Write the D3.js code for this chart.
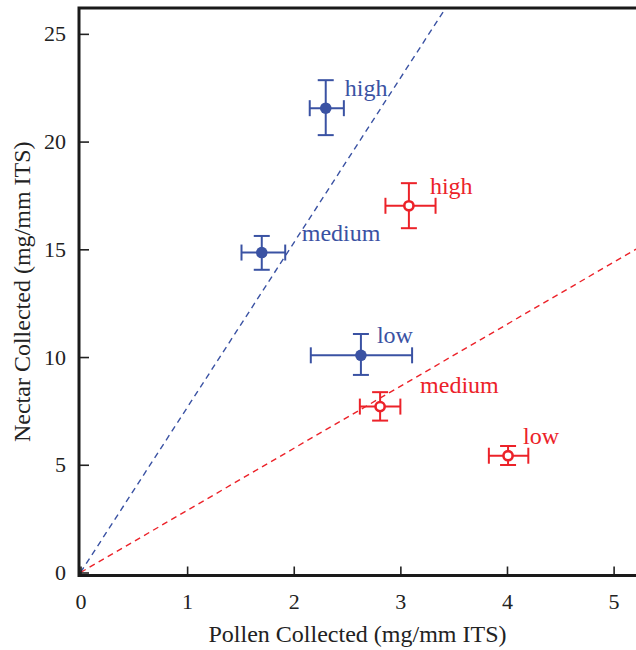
<!DOCTYPE html>
<html>
<head>
<meta charset="utf-8">
<script src="https://cdn.jsdelivr.net/npm/d3@7"></script>
</head>
<body style="margin:0">
<svg id="chart" width="636" height="650"></svg>
<script>
// data
const levels = ['high', 'medium', 'low']
const bluePollen = [2.30, 1.70, 2.63]
const bluePollenErr = [[2.15, 2.47], [1.51, 1.92], [2.16, 3.11]]
const blueNectar = [21.55, 14.85, 10.08]
const blueNectarErr = [[20.30, 22.85], [14.05, 15.62], [9.17, 11.07]]
const redPollen = [3.08, 2.81, 4.01]
const redPollenErr = [[2.86, 3.33], [2.62, 3.00], [3.83, 4.20]]
const redNectar = [17.02, 7.70, 5.42]
const redNectarErr = [[15.98, 18.07], [7.05, 8.37], [4.99, 5.87]]
const blueSlope = 7.65
const redSlope = 2.88
const xTicks = [0, 1, 2, 3, 4, 5]
const yTicks = [0, 5, 10, 15, 20, 25]

const blue = '#3a52a3'
const red = '#ec2229'
const serif = 'Liberation Serif'

// label offsets per point (pixels)
const blueLabelOff = [[19, -12], [40, -12], [16, -12]]
const redLabelOff = [[21, -12], [40, -14], [15, -12]]

const svg = d3.select('#chart')
const width = 636
const height = 650

const x = d3.scaleLinear().domain([0, 5.21]).range([80.5, 636])
const y = d3.scaleLinear().domain([0, 26.2]).range([572.5, 8])

const plotLeft = 79
const plotTop = 8
const plotBottom = 575.5

svg.append('clipPath').attr('id', 'plot')
  .append('rect')
  .attr('x', plotLeft).attr('y', plotTop)
  .attr('width', width - plotLeft).attr('height', plotBottom - plotTop)

//fit lines through the origin
const fits = [
  { slope: blueSlope, color: blue },
  { slope: redSlope, color: red }
]
svg.append('g').attr('clip-path', 'url(#plot)')
  .selectAll('line')
  .data(fits)
  .enter()
  .append('line')
  .attr('x1', x(0))
  .attr('y1', y(0))
  .attr('x2', x(5.21))
  .attr('y2', d => y(5.21 * d.slope))
  .attr('stroke', d => d.color)
  .attr('stroke-width', 1.4)
  .attr('stroke-dasharray', '6,4.5')

//axes
const xAxisCall = d3.axisBottom(x)
  .tickValues(xTicks)
  .tickSize(-9)
  .tickPadding(18)
  .tickFormat(d3.format('d'))

const yAxisCall = d3.axisLeft(y)
  .tickValues(yTicks)
  .tickSize(-9)
  .tickPadding(14)
  .tickFormat(d3.format('d'))

const xAxisGroup = svg.append('g')
  .attr('transform', `translate(0, ${plotBottom})`)
  .call(xAxisCall)
xAxisGroup.select('.domain').remove()
xAxisGroup.selectAll('line').attr('stroke', '#222').attr('stroke-width', 1.6)

const yAxisGroup = svg.append('g')
  .attr('transform', `translate(${plotLeft + 1}, 0)`)
  .call(yAxisCall)
yAxisGroup.select('.domain').remove()
yAxisGroup.selectAll('line').attr('stroke', '#222').attr('stroke-width', 1.6)

svg.selectAll('.tick text')
  .attr('fill', '#222')
  .attr('font-family', serif)
  .attr('font-size', 22)
  .style('font-family', serif)
  .style('font-size', '22px')

//frame: left, top, bottom
svg.append('path')
  .attr('d', `M${width},${plotTop}H${plotLeft}V${plotBottom}H${width}`)
  .attr('fill', 'none')
  .attr('stroke', '#1a1a1a')
  .attr('stroke-width', 3)

//axis labels
svg.append('text')
  .attr('x', (plotLeft + width) / 2)
  .attr('y', 642)
  .attr('font-family', serif)
  .style('font-family', serif)
  .attr('font-size', 24)
  .attr('fill', '#222')
  .attr('text-anchor', 'middle')
  .text('Pollen Collected (mg/mm ITS)')

svg.append('text')
  .attr('transform', 'rotate(-90)')
  .attr('x', -(plotTop + plotBottom) / 2)
  .attr('y', 30)
  .attr('font-family', serif)
  .style('font-family', serif)
  .attr('font-size', 24)
  .attr('fill', '#222')
  .attr('text-anchor', 'middle')
  .text('Nectar Collected (mg/mm ITS)')

//build series
const series = [
  { color: blue, filled: true, px: bluePollen, pxe: bluePollenErr, ny: blueNectar, nye: blueNectarErr, off: blueLabelOff },
  { color: red, filled: false, px: redPollen, pxe: redPollenErr, ny: redNectar, nye: redNectarErr, off: redLabelOff }
]

const cap = 8
series.forEach(s => {
  const pts = levels.map((lv, i) => ({
    level: lv,
    x: s.px[i], xe: s.pxe[i],
    y: s.ny[i], ye: s.nye[i],
    off: s.off[i]
  }))
  const g = svg.append('g')
    .attr('stroke', s.color)
    .attr('stroke-width', 2)

  const pt = g.selectAll('g.pt')
    .data(pts)
    .enter()
    .append('g')
    .attr('class', 'pt')

  //horizontal error bars
  pt.append('line')
    .attr('x1', d => x(d.xe[0])).attr('x2', d => x(d.xe[1]))
    .attr('y1', d => y(d.y)).attr('y2', d => y(d.y))
  pt.selectAll('line.hcap')
    .data(d => d.xe.map(v => ({ v, y: d.y })))
    .enter()
    .append('line')
    .attr('class', 'hcap')
    .attr('x1', d => x(d.v)).attr('x2', d => x(d.v))
    .attr('y1', d => y(d.y) - cap).attr('y2', d => y(d.y) + cap)

  //vertical error bars
  pt.append('line')
    .attr('x1', d => x(d.x)).attr('x2', d => x(d.x))
    .attr('y1', d => y(d.ye[0])).attr('y2', d => y(d.ye[1]))
  pt.selectAll('line.vcap')
    .data(d => d.ye.map(v => ({ v, x: d.x })))
    .enter()
    .append('line')
    .attr('class', 'vcap')
    .attr('x1', d => x(d.x) - cap).attr('x2', d => x(d.x) + cap)
    .attr('y1', d => y(d.v)).attr('y2', d => y(d.v))

  //markers
  pt.append('circle')
    .attr('cx', d => x(d.x))
    .attr('cy', d => y(d.y))
    .attr('r', s.filled ? 5.8 : 4.6)
    .attr('fill', s.filled ? s.color : '#fff')
    .attr('stroke-width', s.filled ? 0 : 2.6)

  //labels
  pt.append('text')
    .attr('x', d => x(d.x) + d.off[0])
    .attr('y', d => y(d.y) + d.off[1])
    .attr('stroke', 'none')
    .attr('fill', s.color)
    .attr('font-family', serif)
    .style('font-family', serif)
    .attr('font-size', 24)
    .text(d => d.level)
})
</script>
</body>
</html>
